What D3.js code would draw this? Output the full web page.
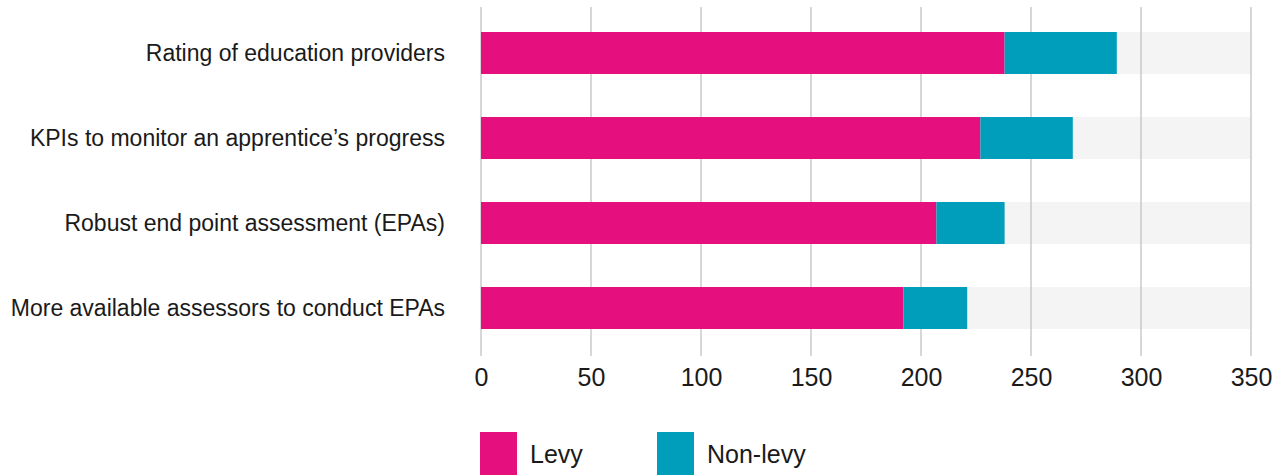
<!DOCTYPE html>
<html><head><meta charset="utf-8">
<script src="https://cdn.jsdelivr.net/npm/d3@7/dist/d3.min.js"></script>
<style>body{margin:0;background:#fff;} svg{display:block;}</style>
</head><body>
<svg id="c" width="1284" height="475"></svg>
<script>
const categories = ["Rating of education providers","KPIs to monitor an apprentice’s progress","Robust end point assessment (EPAs)","More available assessors to conduct EPAs"];
const levy = [238, 227, 207, 192];
const nonLevy = [51, 42, 31, 29];
const tickValues = [0,50,100,150,200,250,300,350];
const seriesNames = ["Levy","Non-levy"];
const colors = ["#e5107e","#009ebb"];

const svg = d3.select("#c");
const font = "'Liberation Sans', Arial, Helvetica, sans-serif";
const x = d3.scaleLinear().domain([0,350]).range([481,1251]);
const y = d3.scaleBand().domain(categories).range([10.5,350.5]).paddingInner(1 - 42/85).paddingOuter((85-42)/85/2);
// background bars
svg.append("g").selectAll("rect").data(categories).join("rect")
  .attr("x",x(0)).attr("width",x(350)-x(0)).attr("y",d=>y(d)).attr("height",y.bandwidth())
  .attr("fill","#f4f4f4");
// grid
svg.append("g").selectAll("line").data(tickValues).join("line")
  .attr("x1",d=>x(d)).attr("x2",d=>x(d)).attr("y1",7).attr("y2",356)
  .attr("stroke","#bdbdbd").attr("stroke-width",1.2);
const data = categories.map((c,i)=>({c, levy:levy[i], non:nonLevy[i]}));
svg.append("g").selectAll("rect").data(data).join("rect")
  .attr("x",x(0)).attr("width",d=>x(d.levy)-x(0)).attr("y",d=>y(d.c)).attr("height",y.bandwidth())
  .attr("fill",colors[0]);
svg.append("g").selectAll("rect").data(data).join("rect")
  .attr("x",d=>x(d.levy)).attr("width",d=>x(d.levy+d.non)-x(d.levy)).attr("y",d=>y(d.c)).attr("height",y.bandwidth())
  .attr("fill",colors[1]);
// category labels
svg.append("g").selectAll("text").data(categories).join("text")
  .attr("x",445).attr("y",d=>y(d)+y.bandwidth()/2).attr("dy","0.33em")
  .attr("text-anchor","end").attr("font-family",font).attr("font-size",23)
  .attr("fill","#1a1a1a").text(d=>d);
// x axis labels
const ax = svg.append("g").attr("transform","translate(0,356)")
  .call(d3.axisBottom(x).tickValues(tickValues).tickSize(0).tickPadding(12));
ax.select(".domain").remove();
ax.selectAll("text").attr("font-family",font).attr("font-size",25).attr("fill","#1a1a1a");
// legend
const lg = svg.append("g");
const lx = [480, 657];
seriesNames.forEach((s,i)=>{
  lg.append("rect").attr("x",lx[i]).attr("y",432).attr("width",37).attr("height",43).attr("fill",colors[i]);
  lg.append("text").attr("x",lx[i]+50).attr("y",463).attr("font-family",font).attr("font-size",25)
    .attr("fill","#1a1a1a").text(s);
});
</script>
</body></html>
